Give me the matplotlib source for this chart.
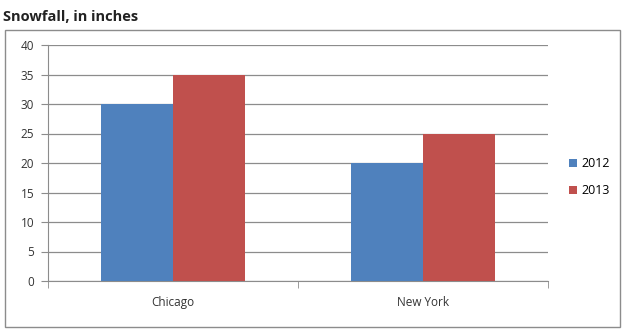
import matplotlib.pyplot as plt
from matplotlib.patches import Rectangle
import numpy as np

cities = ["Chicago", "New York"]
snow_2012 = [30, 20]
snow_2013 = [35, 25]
years = ["2012", "2013"]
y_ticks = [0, 5, 10, 15, 20, 25, 30, 35, 40]

plt.rcParams["font.family"] = ["Open Sans", "DejaVu Sans"]

fig = plt.figure(figsize=(6.24, 3.3), dpi=100)
fig.patch.set_facecolor("white")

# outer chart frame
fig.add_artist(Rectangle((5 / 624, 1 - 327 / 330), 615 / 624, 297 / 330,
                         transform=fig.transFigure, fill=False,
                         edgecolor="#8c8c8c", linewidth=1.0))
fig.text(3 / 624, 1 - 17 / 330, "Snowfall, in inches", fontsize=10.5,
         fontweight="bold", va="center", ha="left", color="#222222")

ax = fig.add_axes([48 / 624, 1 - 281 / 330, 500 / 624, 236 / 330])

x = np.arange(len(cities))
w = 0.288
ax.bar(x - w / 2, snow_2012, w, color="#4F81BD", label=years[0], zorder=3)
ax.bar(x + w / 2, snow_2013, w, color="#C0504D", label=years[1], zorder=3)

ax.set_xlim(-0.5, len(cities) - 0.5)
ax.set_ylim(0, 40)
ax.set_yticks(y_ticks)
ax.set_xticks(x)
ax.set_xticklabels(cities)
ax.set_xticks([-0.5, 0.5, 1.5], minor=True)
ax.tick_params(axis="x", which="major", length=0, pad=11, labelsize=8.5, colors="#333333")
ax.tick_params(axis="x", which="minor", length=5, color="#8c8c8c", direction="out")
ax.tick_params(axis="y", length=5, color="#8c8c8c", labelsize=8.5,
               labelcolor="#333333", pad=5)

ax.yaxis.grid(True, color="#8c8c8c", linewidth=0.9, zorder=0)
for side in ["top", "right"]:
    ax.spines[side].set_visible(False)
for side in ["left", "bottom"]:
    ax.spines[side].set_color("#8c8c8c")

ax.legend(loc="center left", bbox_to_anchor=(1.02, 0.44), frameon=False,
          fontsize=9, handlelength=0.6, handleheight=0.6, handletextpad=0.4,
          labelspacing=1.1)

fig.savefig("out.png", dpi=100)
